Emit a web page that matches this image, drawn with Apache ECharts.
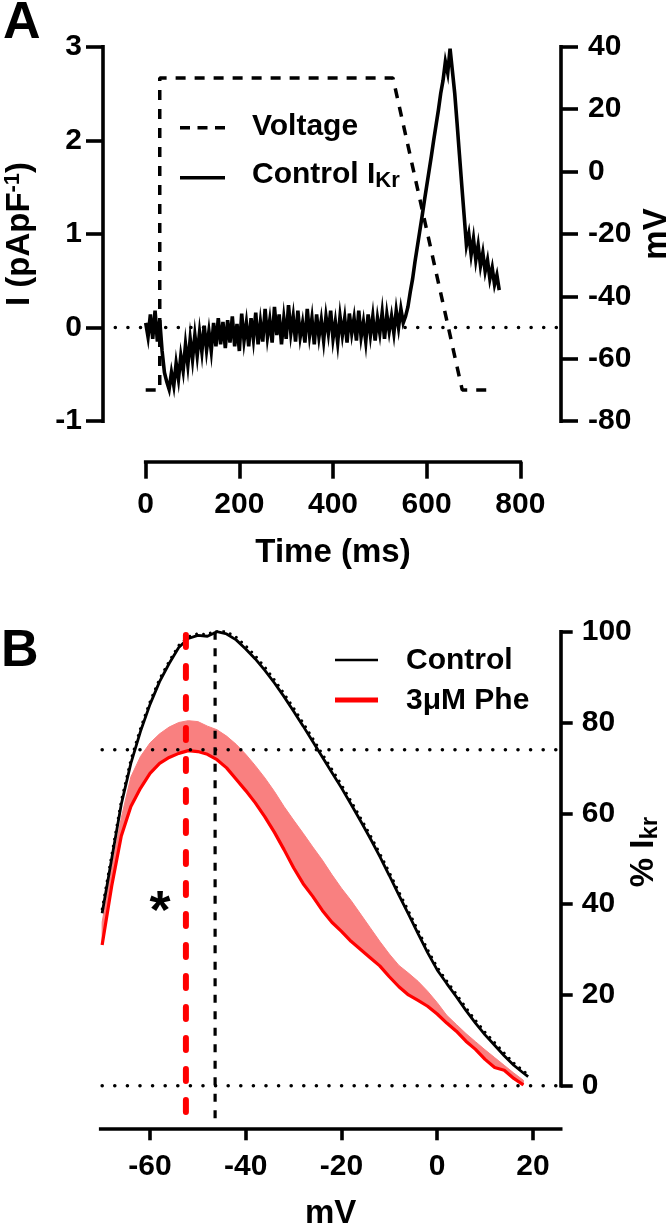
<!DOCTYPE html>
<html><head><meta charset="utf-8">
<script src="https://cdn.jsdelivr.net/npm/echarts@6/dist/echarts.min.js"></script>
<style>html,body{margin:0;padding:0;background:#fff}#c{width:670px;height:1226px}</style>
</head><body><div id="c"></div>
<script>
// ---------- Panel A data ----------
const timeMs = [0,5,10,15,20,25,30,35,40,45,50,55,60,65,70,75,80,85,90,95,100,105,110,115,120,125,130,135,140,145,150,155,160,165,170,175,180,185,190,195,200,205,210,215,220,225,230,235,240,245,250,255,260,265,270,275,280,285,290,295,300,305,310,315,320,325,330,335,340,345,350,355,360,365,370,375,380,385,390,395,400,405,410,415,420,425,430,435,440,445,450,455,460,465,470,475,480,485,490,495,500,505,510,515,520,525,530,535,540,545,550,555,560,565,570,575,580,585,590,595,600,605,610,615,620,625,630,635,640,645,650,655,660,665,670,675,680,685,690,695,700,705,710,715,720,725,730,735,740,745,750,755];
const currentPApF = [0.05,-0.10,0.14,-0.12,0.18,-0.15,0.08,-0.25,-0.48,-0.58,-0.66,-0.48,-0.62,-0.38,-0.55,-0.30,-0.46,-0.18,-0.40,-0.12,-0.34,-0.08,-0.30,-0.05,-0.26,0.02,-0.24,-0.04,-0.25,0.05,-0.20,0.10,-0.18,0.06,-0.22,0.08,-0.16,0.12,-0.20,0.04,-0.25,0.15,-0.14,0.05,-0.20,0.10,-0.12,0.16,-0.18,0.06,-0.15,0.20,-0.10,0.08,-0.16,0.22,-0.08,0.14,-0.18,0.10,-0.12,0.24,-0.06,0.12,-0.15,0.18,-0.10,0.05,-0.16,0.20,-0.08,0.10,-0.18,0.14,-0.10,0.08,-0.14,0.12,-0.06,0.18,-0.12,0.06,-0.16,0.12,-0.08,0.10,-0.16,0.15,-0.06,0.10,-0.14,0.18,-0.10,0.06,-0.15,0.14,-0.08,0.12,-0.14,0.10,-0.06,0.16,-0.12,0.14,-0.04,0.12,-0.06,0.18,0.00,0.20,0.05,0.12,0.22,0.38,0.52,0.70,0.86,1.02,1.18,1.35,1.51,1.67,1.83,2.00,2.16,2.32,2.50,2.64,2.84,2.72,2.98,2.74,2.50,2.18,1.85,1.52,1.20,0.88,1.00,0.78,0.95,0.72,0.88,0.66,0.80,0.60,0.72,0.52,0.64,0.46,0.56,0.40,0.45];
const voltageTimeMs = [0, 30, 30, 528, 676, 745];
const voltageMV = [-70, -70, 30, 30, -70, -70];
const zeroLineMs = [-65, 886];
const zeroLineI = [0, 0];

// ---------- Panel B data ----------
const controlMV = [-70,-68,-66,-64,-62,-60,-58,-56,-54,-52,-50,-48,-46,-44,-42,-40,-38,-36,-34,-32,-30,-28,-26,-24,-22,-20,-18,-16,-14,-12,-10,-8,-6,-4,-2,0,2,4,6,8,10,12,14,16,18,19];
const controlPct = [38,50,62,71,78,84,89,93,96.5,98.5,99.2,99.0,100,99.5,98.2,96.2,94,91.5,88.7,85.7,82.5,79.2,75.8,72.4,69,65.6,62,58.3,54.5,50.5,46.3,42,37.8,33.5,29.3,25.5,22.5,19.6,16.6,13.8,11.2,8.9,6.6,4.5,2.8,2.0];
const controlUpperPct = [38.9,50.9,62.8,71.8,78.7,84.6,89.6,93.5,97,98.9,99.6,99.4,100.4,100,98.8,96.9,94.7,92.2,89.4,86.4,83.2,79.9,76.5,73.1,69.7,66.3,62.7,59,55.2,51.2,47,42.7,38.5,34.2,30,26.1,23.1,20.2,17.2,14.4,11.8,9.5,7.2,5.0,3.3,2.4];
const pheMV = [-70,-68,-66,-64,-62,-60,-58,-56,-54,-52,-50,-48,-46,-44,-42,-40,-38,-36,-34,-32,-30,-28,-26,-24,-22,-20,-18,-16,-14,-12,-10,-8,-6,-4,-2,0,2,4,6,8,10,12,14,16,18];
const pheMeanPct = [31,44,55,61.5,65.5,68.8,71,72.3,73.2,73.8,73.6,73,71.8,70,67.5,65,62.3,59.2,55.8,52,48,44.5,41.7,38.6,36,34,31.8,30,28.2,26.4,24,21.8,20,18.8,17.5,15.8,13.8,12,9.8,8,5.8,4.0,3.4,1.6,0.2];
const pheUpperPct = [36,48,59,68,72.5,75.5,77.5,79,80,80.4,80.2,79.2,78.4,77,75.2,73,70.5,67.8,64.8,61.5,58.5,55.6,52.6,49.7,46.5,43.5,40.8,37.8,34.8,31.8,29,26.5,24.8,23,20.8,18.3,15.5,13.5,11.5,9.7,7.9,6.2,4.5,2.8,1.2];
const refLevelsPct = [74, 0];
const refLineMV = [-70, 25.8];
const controlPeakMV = -46.4;
const phePeakMV = -52.5;
const mvTicks = [-60, -40, -20, 0, 20];

// ---------- helpers ----------
const FONT = 'Liberation Sans';
const pairs = (xs, ys) => xs.map((x, i) => [x, ys[i]]);
const axisLine = {show: true, onZero: false, lineStyle: {color: '#000', width: 3.6, cap: 'square'}};
const tick = (len) => ({show: true, length: len, inside: false, lineStyle: {color: '#000', width: 3.6}});
const lbl = (m) => ({show: true, margin: m, fontSize: 30, fontWeight: 'bold', fontFamily: FONT, color: '#000', showMinLabel: true, showMaxLabel: true});
const noSplit = {show: false};
const dotted = {color: '#000', width: 3.5, type: [0.1, 12.5], cap: 'round'};

const chart = echarts.init(document.getElementById('c'), null, {renderer: 'canvas'});

const t = (txt, x, y, size, extra) => ({
  type: 'text', x: x, y: y, silent: true,
  style: Object.assign({text: txt, fill: '#000', fontSize: size, fontWeight: 'bold', fontFamily: FONT, align: 'center', verticalAlign: 'middle'}, extra || {})
});

const option = {
  animation: false,
  backgroundColor: '#fff',
  textStyle: {fontFamily: FONT, fontWeight: 'bold', color: '#000'},
  grid: [
    {left: 145.7, right: 149.7, top: 46.7, height: 374.5, containLabel: false, outerBoundsMode: 'none'},
    {left: 100.7, right: 109.3, top: 631.7, height: 496.6, containLabel: false, outerBoundsMode: 'none'},
    {left: 100.7, right: 109.3, top: 631.7, height: 454, containLabel: false, outerBoundsMode: 'none'},
    {left: 103, right: 109, top: 46.7, height: 374.5, containLabel: false, outerBoundsMode: 'none'}
  ],
  xAxis: [
    {gridIndex: 0, type: 'value', min: 0, max: 800, interval: 200, position: 'bottom', offset: 40.5,
     axisLine: axisLine, axisTick: tick(17), axisLabel: lbl(28), splitLine: noSplit},
    {gridIndex: 1, type: 'value', min: -70.3, max: 25.8, position: 'bottom',
     axisLine: axisLine, axisTick: Object.assign(tick(12), {customValues: mvTicks}),
     axisLabel: Object.assign(lbl(23), {customValues: mvTicks}), splitLine: noSplit},
    {gridIndex: 2, type: 'value', min: -70.3, max: 25.8, show: false},
    {gridIndex: 3, type: 'value', min: -91.2, max: 886.9, show: false}
  ],
  yAxis: [
    {gridIndex: 0, type: 'value', min: -1, max: 3, interval: 1, position: 'left', offset: 42.7,
     axisLine: axisLine, axisTick: tick(17), axisLabel: lbl(21), splitLine: noSplit},
    {gridIndex: 0, type: 'value', min: -80, max: 40, interval: 20, position: 'right', offset: 40.7,
     axisLine: axisLine, axisTick: tick(17), axisLabel: lbl(27), splitLine: noSplit},
    {gridIndex: 1, type: 'value', min: -9.38, max: 100, show: false},
    {gridIndex: 2, type: 'value', min: 0, max: 100, interval: 20, position: 'right',
     axisLine: axisLine, axisTick: tick(12), axisLabel: lbl(21), splitLine: noSplit},
    {gridIndex: 3, type: 'value', min: -1, max: 3, show: false}
  ],
  series: [
    // Panel A
    {type: 'line', name: 'zeroA', xAxisIndex: 3, yAxisIndex: 4, data: pairs(zeroLineMs, zeroLineI),
     symbol: 'none', silent: true, lineStyle: dotted, z: 1},
    {type: 'line', name: 'Voltage', xAxisIndex: 0, yAxisIndex: 1, data: pairs(voltageTimeMs, voltageMV),
     symbol: 'none', clip: false, lineStyle: {color: '#000', width: 3.5, type: [10, 9]}, z: 2},
    {type: 'line', name: 'Control IKr', xAxisIndex: 0, yAxisIndex: 0, data: pairs(timeMs, currentPApF),
     symbol: 'none', clip: false, lineStyle: {color: '#000', width: 3.6, join: 'miter'}, z: 3},
    // Panel B
    {type: 'custom', name: 'pheSem', xAxisIndex: 1, yAxisIndex: 2, data: [[0, 0]], silent: true, z: 2,
     renderItem: function (params, api) {
       const top = pheMV.map((x, i) => api.coord([x, pheUpperPct[i]]));
       const bot = pheMV.map((x, i) => api.coord([x, pheMeanPct[i]])).reverse();
       return {type: 'polygon', shape: {points: top.concat(bot)}, style: {fill: '#f98080', stroke: '#f98080', lineWidth: 1}};
     }},
    {type: 'line', name: '3μM Phe', xAxisIndex: 1, yAxisIndex: 2, data: pairs(pheMV, pheMeanPct),
     symbol: 'none', lineStyle: {color: '#ff0000', width: 3.2}, z: 3},
    {type: 'line', name: 'controlSem', xAxisIndex: 1, yAxisIndex: 2, data: pairs(controlMV, controlUpperPct),
     symbol: 'none', lineStyle: {color: '#000', width: 2.8, type: [0.1, 7], cap: 'round'}, z: 3},
    {type: 'line', name: 'Control', xAxisIndex: 1, yAxisIndex: 2, data: pairs(controlMV, controlPct),
     symbol: 'none', lineStyle: {color: '#000', width: 2.8}, z: 4},
    {type: 'line', name: 'ref74', xAxisIndex: 1, yAxisIndex: 2, data: pairs(refLineMV, [refLevelsPct[0], refLevelsPct[0]]),
     symbol: 'none', silent: true, lineStyle: dotted, z: 5},
    {type: 'line', name: 'ref0', xAxisIndex: 1, yAxisIndex: 2, data: pairs(refLineMV, [refLevelsPct[1], refLevelsPct[1]]),
     symbol: 'none', silent: true, lineStyle: dotted, z: 5},
    {type: 'line', name: 'ctrlPeak', xAxisIndex: 1, yAxisIndex: 2, data: [[controlPeakMV, 100], [controlPeakMV, -9]],
     symbol: 'none', silent: true, lineStyle: {color: '#000', width: 3.2, type: [8, 8.5]}, z: 6},
    {type: 'line', name: 'phePeak', xAxisIndex: 1, yAxisIndex: 2, data: [[phePeakMV, 99.3], [phePeakMV, -6.9]],
     symbol: 'none', silent: true, lineStyle: {color: '#ff0000', width: 6, type: [12, 19], cap: 'round'}, z: 6}
  ],
  graphic: [
    t('A', 3, 24, 52, {align: 'left'}),
    t('B', 1, 652, 52, {align: 'left'}),
    {type: 'text', x: 20, y: 234, rotation: Math.PI / 2, silent: true,
     style: {text: '{m|I (pApF}{s|-1}{m|)}', fill: '#000', fontSize: 33, fontWeight: 'bold', fontFamily: FONT, align: 'center', verticalAlign: 'middle',
       rich: {m: {fontSize: 33, fontWeight: 'bold', fontFamily: FONT, lineHeight: 36, fill: '#000'},
              s: {fontSize: 22, fontWeight: 'bold', fontFamily: FONT, lineHeight: 10, verticalAlign: 'top', fill: '#000'}}}},
    {type: 'text', x: 657, y: 234, rotation: Math.PI / 2, silent: true,
     style: {text: 'mV', fill: '#000', fontSize: 33, fontWeight: 'bold', fontFamily: FONT, align: 'center', verticalAlign: 'middle'}},
    t('Time (ms)', 333, 553, 33),
    {type: 'line', silent: true, shape: {x1: 180, y1: 127.7, x2: 225, y2: 127.7}, style: {stroke: '#000', lineWidth: 3.5, lineDash: [10, 7.5]}},
    t('Voltage', 252, 127, 30, {align: 'left'}),
    {type: 'line', silent: true, shape: {x1: 180, y1: 177.7, x2: 225, y2: 177.7}, style: {stroke: '#000', lineWidth: 3.5}},
    {type: 'text', x: 252, y: 175, silent: true,
     style: {text: '{m|Control I}{s|Kr}', fill: '#000', fontSize: 30, fontWeight: 'bold', fontFamily: FONT, align: 'left', verticalAlign: 'middle',
       rich: {m: {fontSize: 30, fontWeight: 'bold', fontFamily: FONT, lineHeight: 34, fill: '#000'},
              s: {fontSize: 22, fontWeight: 'bold', fontFamily: FONT, lineHeight: 14, verticalAlign: 'bottom', fill: '#000'}}}},
    {type: 'text', x: 644, y: 852, rotation: Math.PI / 2, silent: true,
     style: {text: '{m|% I}{s|kr}', fill: '#000', fontSize: 33, fontWeight: 'bold', fontFamily: FONT, align: 'center', verticalAlign: 'middle',
       rich: {m: {fontSize: 33, fontWeight: 'bold', fontFamily: FONT, lineHeight: 36, fill: '#000'},
              s: {fontSize: 24, fontWeight: 'bold', fontFamily: FONT, lineHeight: 14, verticalAlign: 'bottom', fill: '#000'}}}},
    t('mV', 330.7, 1214, 33),
    t('*', 160, 913, 54),
    {type: 'line', silent: true, shape: {x1: 335, y1: 660, x2: 378, y2: 660}, style: {stroke: '#000', lineWidth: 2.5}},
    t('Control', 406, 661, 30, {align: 'left'}),
    {type: 'line', silent: true, shape: {x1: 335, y1: 700, x2: 378, y2: 700}, style: {stroke: '#ff0000', lineWidth: 5}},
    t('3μM Phe', 406, 701, 30, {align: 'left'})
  ]
};
chart.setOption(option);
</script>
</body></html>
